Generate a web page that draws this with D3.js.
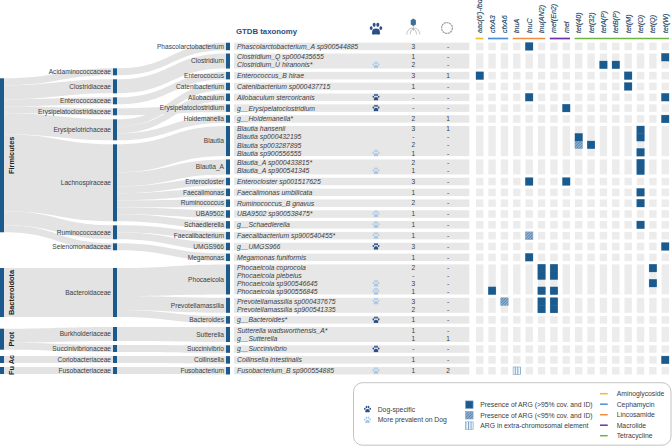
<!DOCTYPE html>
<html>
<head>
<meta charset="utf-8">
<script src="https://cdn.jsdelivr.net/npm/d3@7"></script>
<style>
  html, body { margin: 0; padding: 0; background: #fff; }
  svg { display: block; font-family: "Liberation Sans", Arial, sans-serif; }
</style>
</head>
<body>
<div id="chart"></div>
<script>
// Taxonomy, top to bottom
const phyla = ['Firmicutes', 'Bacteroidota', 'Prot', 'Ac', 'Fu'];

const families = ['Acidaminococcaceae', 'Clostridiaceae', 'Enterococcaceae', 'Erysipelatoclostridiaceae',
  'Erysipelotrichaceae', 'Lachnospiraceae', 'Ruminococcaceae', 'Selenomonadaceae', 'Bacteroidaceae',
  'Burkholderiaceae', 'Succinivibrionaceae', 'Coriobacteriaceae', 'Fusobacteriaceae'];
const familyPhylum = ['Firmicutes', 'Firmicutes', 'Firmicutes', 'Firmicutes', 'Firmicutes', 'Firmicutes',
  'Firmicutes', 'Firmicutes', 'Bacteroidota', 'Prot', 'Prot', 'Ac', 'Fu'];

const genera = ['Phascolarctobacterium', 'Clostridium', 'Enterococcus', 'Catenibacterium', 'Allobaculum',
  'Erysipelatoclostridium', 'Holdemanella', 'Blautia', 'Blautia_A', 'Enterocloster', 'Faecalimonas',
  'Ruminococcus', 'UBA9502', 'Schaedlerella', 'Faecalibacterium', 'UMGS966', 'Megamonas', 'Phocaeicola',
  'Prevotellamassilia', 'Bacteroides', 'Sutterella', 'Succinivibrio', 'Collinsella', 'Fusobacterium'];
const genusFamily = ['Acidaminococcaceae', 'Clostridiaceae', 'Enterococcaceae', 'Erysipelotrichaceae',
  'Erysipelotrichaceae', 'Erysipelatoclostridiaceae', 'Erysipelotrichaceae', 'Lachnospiraceae',
  'Lachnospiraceae', 'Lachnospiraceae', 'Lachnospiraceae', 'Lachnospiraceae', 'Lachnospiraceae',
  'Lachnospiraceae', 'Ruminococcaceae', 'Ruminococcaceae', 'Selenomonadaceae', 'Bacteroidaceae',
  'Bacteroidaceae', 'Bacteroidaceae', 'Burkholderiaceae', 'Succinivibrionaceae', 'Coriobacteriaceae',
  'Fusobacteriaceae'];

const species = ['Phascolarctobacterium_A sp900544885', 'Clostridium_Q sp000435655', 'Clostridium_U hiranonis*',
  'Enterococcus_B hirae', 'Catenibacterium sp000437715', 'Allobaculum stercoricanis', 'g__Erysipelatoclostridium',
  'g__Holdemanella*', 'Blautia hansenii', 'Blautia sp000432195', 'Blautia sp003287895', 'Blautia sp900556555',
  'Blautia_A sp000433815*', 'Blautia_A sp900541345', 'Enterocloster sp001517625', 'Faecalimonas umbilicata',
  'Ruminococcus_B gnavus', 'UBA9502 sp900538475*', 'g__Schaedlerella', 'Faecalibacterium sp900540455*',
  'g__UMGS966', 'Megamonas funiformis', 'Phocaeicola coprocola', 'Phocaeicola plebeius', 'Phocaeicola sp900546645',
  'Phocaeicola sp900556845', 'Prevotellamassilia sp000437675', 'Prevotellamassilia sp900541335', 'g__Bacteroides*',
  'Sutterella wadsworthensis_A*', 'g__Sutterella', 'g__Succinivibrio', 'Collinsella intestinalis',
  'Fusobacterium_B sp900554885'];
const speciesGenus = ['Phascolarctobacterium', 'Clostridium', 'Clostridium', 'Enterococcus', 'Catenibacterium',
  'Allobaculum', 'Erysipelatoclostridium', 'Holdemanella', 'Blautia', 'Blautia', 'Blautia', 'Blautia',
  'Blautia_A', 'Blautia_A', 'Enterocloster', 'Faecalimonas', 'Ruminococcus', 'UBA9502', 'Schaedlerella',
  'Faecalibacterium', 'UMGS966', 'Megamonas', 'Phocaeicola', 'Phocaeicola', 'Phocaeicola', 'Phocaeicola',
  'Prevotellamassilia', 'Prevotellamassilia', 'Bacteroides', 'Sutterella', 'Sutterella', 'Succinivibrio',
  'Collinsella', 'Fusobacterium'];

const phageCounts = ['3', '1', '2', '3', '1', '-', '-', '2', '3', '-', '2', '1', '2', '1', '3', '1', '2',
  '1', '1', '1', '3', '1', '2', '-', '3', '1', '3', '2', '1', '1', '1', '-', '1', '1'];
const plasmidCounts = ['-', '-', '-', '1', '-', '-', '-', '1', '1', '-', '-', '-', '-', '-', '-', '-', '-',
  '-', '-', '-', '-', '-', '-', '-', '-', '-', '-', '-', '-', '-', '1', '-', '-', '2'];

const dogSpecific = ['Allobaculum stercoricanis', 'g__Erysipelatoclostridium', 'g__UMGS966', 'g__Bacteroides*',
  'g__Succinivibrio'];
const dogPrevalent = ['Clostridium_U hiranonis*', 'Blautia sp900556555', 'Blautia_A sp900541345',
  'UBA9502 sp900538475*', 'g__Schaedlerella', 'Faecalibacterium sp900540455*', 'Phocaeicola sp900546645',
  'Phocaeicola sp900556845', 'Prevotellamassilia sp000437675', 'Fusobacterium_B sp900554885'];

// Resistance genes and their antibiotic class
const genes = ["aac(6')-Ibd", 'cfxA3', 'cfxA6', 'lnuA', 'lnuC', 'lnu(AN2)', 'mef(En2)', 'mel', 'tet(40)',
  'tet(32)', 'tetA(P)', 'tetB(P)', 'tet(M)', 'tet(O)', 'tet(Q)', 'tet(W)'];
const argClasses = ['Aminoglycoside', 'Cephamycin', 'Lincosamide', 'Macrolide', 'Tetracycline'];
const classFirstGene = ["aac(6')-Ibd", 'cfxA3', 'lnuA', 'mef(En2)', 'tet(40)'];
const classLastGene = ["aac(6')-Ibd", 'cfxA6', 'lnu(AN2)', 'mel', 'tet(W)'];
const classColors = ['#f6bb2a', '#4a8fdc', '#f08c3e', '#6f2da8', '#6fb344'];

// [species, gene] pairs
const argPresent = [
  ['Phascolarctobacterium_A sp900544885', 'lnuC'], ['Clostridium_Q sp000435655', 'tet(W)'],
  ['Clostridium_U hiranonis*', 'tetA(P)'], ['Clostridium_U hiranonis*', 'tetB(P)'],
  ['Enterococcus_B hirae', "aac(6')-Ibd"], ['Enterococcus_B hirae', 'tet(M)'],
  ['Catenibacterium sp000437715', 'tet(M)'], ['Allobaculum stercoricanis', 'lnuC'],
  ['Allobaculum stercoricanis', 'tet(W)'], ['g__Erysipelatoclostridium', 'mel'], ['g__Holdemanella*', 'tet(W)'],
  ['Blautia hansenii', 'tet(O)'], ['Blautia sp000432195', 'tet(O)'], ['Blautia sp000432195', 'tet(40)'],
  ['Blautia sp003287895', 'tet(32)'], ['Blautia sp900556555', 'tet(O)'], ['Blautia_A sp000433815*', 'tet(O)'],
  ['Blautia_A sp900541345', 'tet(O)'], ['Enterocloster sp001517625', 'lnuC'], ['Enterocloster sp001517625', 'mel'],
  ['Faecalimonas umbilicata', 'tet(O)'], ['Ruminococcus_B gnavus', 'tet(O)'], ['g__Schaedlerella', 'tet(O)'],
  ['g__UMGS966', 'tet(W)'], ['Megamonas funiformis', 'lnuC'], ['Phocaeicola coprocola', 'lnu(AN2)'],
  ['Phocaeicola coprocola', 'mef(En2)'], ['Phocaeicola coprocola', 'tet(Q)'], ['Phocaeicola plebeius', 'lnu(AN2)'],
  ['Phocaeicola plebeius', 'mef(En2)'], ['Phocaeicola sp900546645', 'tet(Q)'], ['Phocaeicola sp900556845', 'cfxA3'],
  ['Phocaeicola sp900556845', 'lnu(AN2)'], ['Phocaeicola sp900556845', 'mef(En2)'],
  ['Prevotellamassilia sp000437675', 'lnu(AN2)'], ['Prevotellamassilia sp000437675', 'mef(En2)'],
  ['Prevotellamassilia sp900541335', 'lnu(AN2)'], ['Prevotellamassilia sp900541335', 'mef(En2)'],
  ['Collinsella intestinalis', 'tet(W)']
];
const argPartial = [['Blautia sp003287895', 'tet(40)'], ['Faecalibacterium sp900540455*', 'lnuC'],
  ['Prevotellamassilia sp000437675', 'cfxA6']];
const argExtra = [['Fusobacterium_B sp900554885', 'lnuA']];

const legendDog = ['Dog-specific', 'More prevalent on Dog'];
const legendArg = ['Presence of ARG (>95% cov. and ID)', 'Presence of ARG (<95% cov. and ID)',
  'ARG in extra-chromosomal element'];

const width = 672;
const height = 446;
const blue = '#1b5a8c';
const ribbonGray = '#e3e3e3';
const textColor = '#3c3c3c';
const cellEdge = '#7ea6c8';

const svg = d3.select('#chart').append('svg').attr('width', width).attr('height', height);

const defs = svg.append('defs');
const hatch = defs.append('pattern').attr('id', 'hatch').attr('patternUnits', 'userSpaceOnUse')
  .attr('width', 2).attr('height', 2).attr('patternTransform', 'rotate(45)');
hatch.append('rect').attr('width', 2).attr('height', 2).attr('fill', '#9db8d4');
hatch.append('rect').attr('width', 1).attr('height', 2).attr('fill', '#5b86b0');
const stripes = defs.append('pattern').attr('id', 'stripes').attr('patternUnits', 'userSpaceOnUse')
  .attr('width', 2.6).attr('height', 2.6);
stripes.append('rect').attr('width', 2.6).attr('height', 2.6).attr('fill', '#f2f6fa');
stripes.append('rect').attr('width', 0.9).attr('height', 2.6).attr('fill', '#6f9ac0');

// Genus column: one unit is one species row
const rowY = d3.scaleLinear().domain([0, 1]).range([42.7, 50.22]);
const genusGap = 0.44;
let cursor = 0;
const genusNodes = genera.map(name => {
  const rows = speciesGenus.filter(g => g === name).length;
  const node = { name, rows, family: genusFamily[genera.indexOf(name)], y0: rowY(cursor), y1: rowY(cursor + rows) };
  cursor += rows + genusGap;
  return node;
});

// Family column: thinner rows, wider breaks where the phylum changes
const familyRow = 7;
const phylumBreak = { Bacteroidota: 17.7, Prot: 10 };
let familyCursor = 68.3;
const familyNodes = families.map((name, i) => {
  const members = genusNodes.filter(g => g.family === name);
  const rows = d3.sum(members, g => g.rows);
  const phylum = familyPhylum[i];
  if (i > 0) familyCursor += phylum !== familyPhylum[i - 1] && phylumBreak[phylum] ? phylumBreak[phylum] : 4;
  const node = { name, phylum, members, rows, y0: familyCursor, y1: familyCursor + rows * familyRow };
  familyCursor = node.y1;
  return node;
});

// Phylum column sits a little below its first family for the two big groups
const phylumShift = { Firmicutes: 10, Prot: 1.7 };
const phylumNodes = phyla.map(name => {
  const members = familyNodes.filter(f => f.phylum === name);
  const rows = d3.sum(members, f => f.rows);
  const y0 = members[0].y0 + (phylumShift[name] || 0);
  return { name, members, rows, y0, y1: y0 + rows * familyRow };
});

const x = {
  phylum: [0, 4], family: [113, 117], genus: [226, 230],
  tableLeft: 234, tableRight: 469.3, name: 237, dog: 376, phage: 413.3, plasmid: 448
};

const ribbon = d3.area().curve(d3.curveBumpX).x(d => d.x).y0(d => d.y0).y1(d => d.y1);
const ribbons = svg.append('g').attr('fill', ribbonGray);

phylumNodes.forEach(p => {
  let stack = p.y0;
  p.members.forEach(f => {
    const h = f.rows * familyRow;
    ribbons.append('path').attr('d', ribbon([
      { x: x.phylum[1], y0: stack, y1: stack + h },
      { x: x.family[0], y0: f.y0, y1: f.y1 }
    ]));
    stack += h;
  });
});

familyNodes.forEach(f => {
  let stack = f.y0;
  f.members.forEach(g => {
    const h = g.rows * familyRow;
    ribbons.append('path').attr('d', ribbon([
      { x: x.family[1], y0: stack, y1: stack + h },
      { x: x.genus[0], y0: g.y0, y1: g.y1 }
    ]));
    stack += h;
  });
});

function nodeBars(nodes, xs) {
  svg.append('g').attr('fill', blue).selectAll('rect').data(nodes).join('rect')
    .attr('x', xs[0]).attr('width', xs[1] - xs[0])
    .attr('y', d => d.y0).attr('height', d => d.y1 - d.y0);
}
nodeBars(phylumNodes, x.phylum);
nodeBars(familyNodes, x.family);
nodeBars(genusNodes, x.genus);

function nodeLabels(nodes, xPos) {
  svg.append('g').attr('font-size', 6.6).attr('fill', textColor).attr('text-anchor', 'end')
    .selectAll('text').data(nodes).join('text')
    .attr('x', xPos).attr('y', d => (d.y0 + d.y1) / 2).attr('dy', '0.35em').text(d => d.name);
}
nodeLabels(familyNodes, 111);
nodeLabels(genusNodes, 224);

svg.append('g').attr('font-size', 7.4).attr('font-weight', 'bold').attr('fill', '#222')
  .attr('text-anchor', 'middle').selectAll('text').data(phylumNodes).join('text')
  .attr('transform', d => `translate(11,${(d.y0 + d.y1) / 2}) rotate(-90)`)
  .attr('dy', '0.35em').text(d => d.name);

// Species table
const speciesRows = species.map((name, i) => {
  const genus = genusNodes.find(g => g.name === speciesGenus[i]);
  const within = speciesGenus.slice(0, i).filter(g => g === genus.name).length;
  const rowH = (genus.y1 - genus.y0) / genus.rows;
  return {
    name, i, genus,
    y0: genus.y0 + within * rowH,
    h: rowH,
    text: (genus.y0 + genus.y1) / 2 + (within - (genus.rows - 1) / 2) * 8.1
  };
});
const rowByName = new Map(speciesRows.map(r => [r.name, r]));

svg.append('g').attr('fill', '#e7e7e7').selectAll('rect').data(genusNodes).join('rect')
  .attr('x', x.tableLeft).attr('width', x.tableRight - x.tableLeft)
  .attr('y', d => d.y0).attr('height', d => d.y1 - d.y0);

svg.append('g').attr('font-size', 6.85).attr('font-style', 'italic').attr('fill', textColor)
  .selectAll('text').data(speciesRows).join('text')
  .attr('x', x.name).attr('y', d => d.text).attr('dy', '0.35em').text(d => d.name);

const countCols = svg.append('g').attr('font-size', 6.6).attr('fill', textColor).attr('text-anchor', 'middle');
countCols.selectAll('.phage').data(speciesRows).join('text').attr('class', 'phage')
  .attr('x', x.phage).attr('y', d => d.text).attr('dy', '0.35em').text(d => phageCounts[d.i]);
countCols.selectAll('.plasmid').data(speciesRows).join('text').attr('class', 'plasmid')
  .attr('x', x.plasmid).attr('y', d => d.text).attr('dy', '0.35em').text(d => plasmidCounts[d.i]);

// Paw glyph, drawn around its centre in a box about 10 units wide
function paw(sel, cx, cy, size, color) {
  const g = sel.append('g').attr('transform', `translate(${cx},${cy}) scale(${size / 10})`).attr('fill', color);
  [[-4.2, -0.8, 1.25, 1.7], [-1.6, -3.6, 1.3, 1.85], [1.6, -3.6, 1.3, 1.85], [4.2, -0.8, 1.25, 1.7]]
    .forEach(t => g.append('ellipse').attr('cx', t[0]).attr('cy', t[1]).attr('rx', t[2]).attr('ry', t[3]));
  g.append('ellipse').attr('cx', 0).attr('cy', 2.2).attr('rx', 3.3).attr('ry', 2.6);
  g.append('circle').attr('cx', -2.2).attr('cy', 3.6).attr('r', 1.3);
  g.append('circle').attr('cx', 2.2).attr('cy', 3.6).attr('r', 1.3);
}
const dogDark = '#2d4f86';
const dogLight = '#a9c8e6';
const dogMarks = svg.append('g');
dogSpecific.forEach(n => paw(dogMarks, x.dog, rowByName.get(n).text, 6.4, dogDark));
dogPrevalent.forEach(n => paw(dogMarks, x.dog, rowByName.get(n).text, 6.4, dogLight));

// Gene matrix
const geneX = d3.scaleBand().domain(genes).range([476, 669]).paddingInner(0.4).paddingOuter(0);

const grid = svg.append('g').attr('fill', '#ececec');
genes.forEach(gene => {
  grid.append('g').selectAll('rect').data(genusNodes).join('rect')
    .attr('x', geneX(gene)).attr('width', geneX.bandwidth())
    .attr('y', d => d.y0).attr('height', d => d.y1 - d.y0);
});

function argCells(list, fill, stroke) {
  svg.append('g').attr('fill', fill).attr('stroke', stroke).attr('stroke-width', 0.6)
    .selectAll('rect').data(list).join('rect')
    .attr('x', d => geneX(d[1])).attr('width', geneX.bandwidth())
    .attr('y', d => rowByName.get(d[0]).y0).attr('height', d => rowByName.get(d[0]).h);
}
argCells(argPartial, 'url(#hatch)', cellEdge);
argCells(argExtra, 'url(#stripes)', cellEdge);
// Halo first, then plain fills, so stacked hits read as one block
argCells(argPresent, blue, cellEdge);
argCells(argPresent, blue, 'none');

svg.append('g').attr('font-size', 7.1).attr('font-style', 'italic').attr('fill', '#1e3f5f')
  .attr('stroke', '#1e3f5f').attr('stroke-width', 0.12)
  .selectAll('text').data(genes).join('text')
  .attr('transform', d => `translate(${geneX(d) + geneX.bandwidth() / 2},33) rotate(-90)`)
  .attr('dy', '0.35em').text(d => d);

svg.append('g').attr('stroke-width', 1.7).selectAll('line').data(argClasses).join('line')
  .attr('stroke', (d, i) => classColors[i])
  .attr('x1', (d, i) => geneX(classFirstGene[i]) - 0.4)
  .attr('x2', (d, i) => geneX(classLastGene[i]) + geneX.bandwidth())
  .attr('y1', 38.5).attr('y2', 38.5);

// Column headers
svg.append('text').attr('x', 236).attr('y', 33.5).attr('font-size', 7.8).attr('font-weight', 'bold')
  .attr('fill', '#1f4f86').text('GTDB taxonomy');
paw(svg, 376, 29, 11.5, dogDark);

const phage = svg.append('g').attr('transform', `translate(${x.phage},0)`);
phage.append('path').attr('d', 'M0,18.6 L2.6,20.2 L2.6,24.4 L0,26 L-2.6,24.4 L-2.6,20.2 Z').attr('fill', '#3f6f99');
phage.append('path').attr('d', 'M0,26 V31 M0,28.5 C-3,27.6 -5.5,29 -6.6,34.5 M0,28.5 C3,27.6 5.5,29 6.6,34.5 M0,29 C-1.6,29 -3,31 -3.2,34.5 M0,29 C1.6,29 3,31 3.2,34.5')
  .attr('fill', 'none').attr('stroke', '#a9a9a9').attr('stroke-width', 0.7);

svg.append('circle').attr('cx', 447).attr('cy', 28).attr('r', 5.4).attr('fill', 'none')
  .attr('stroke', '#a5a5a5').attr('stroke-width', 1.3).attr('stroke-dasharray', '2.2 0.5');

// Legend
const legend = svg.append('g').attr('font-size', 6.8).attr('fill', textColor);
legend.append('rect').attr('x', 353.5).attr('y', 382.7).attr('width', 317.5).attr('height', 62.5).attr('rx', 9)
  .attr('fill', '#fff').attr('stroke', '#b4b4b4').attr('stroke-width', 0.8);

const dogLegendY = d3.scalePoint().domain(legendDog).range([409.3, 420]);
[dogDark, dogLight].forEach((c, i) => paw(legend, 367.5, dogLegendY(legendDog[i]), 6.4, c));
legend.selectAll('.dog').data(legendDog).join('text').attr('class', 'dog')
  .attr('x', 377.7).attr('y', d => dogLegendY(d)).attr('dy', '0.35em').text(d => d);

const argLegendY = d3.scalePoint().domain(legendArg).range([404.7, 425.7]);
legend.selectAll('.argbox').data(legendArg).join('rect').attr('class', 'argbox')
  .attr('x', 465.5).attr('width', 7.6).attr('height', 7.6)
  .attr('y', d => argLegendY(d) - 3.8)
  .attr('fill', (d, i) => [blue, 'url(#hatch)', 'url(#stripes)'][i])
  .attr('stroke', cellEdge).attr('stroke-width', 0.6);
legend.selectAll('.arg').data(legendArg).join('text').attr('class', 'arg')
  .attr('x', 480.3).attr('y', d => argLegendY(d)).attr('dy', '0.35em').text(d => d);

const classLegendY = d3.scalePoint().domain(argClasses).range([393.7, 435.7]);
legend.selectAll('.swatch').data(argClasses).join('line').attr('class', 'swatch')
  .attr('x1', 600).attr('x2', 607.7).attr('y1', d => classLegendY(d)).attr('y2', d => classLegendY(d))
  .attr('stroke', (d, i) => classColors[i]).attr('stroke-width', 1.5);
legend.selectAll('.cls').data(argClasses).join('text').attr('class', 'cls')
  .attr('x', 616.7).attr('y', d => classLegendY(d)).attr('dy', '0.35em').text(d => d);
</script>
</body>
</html>
